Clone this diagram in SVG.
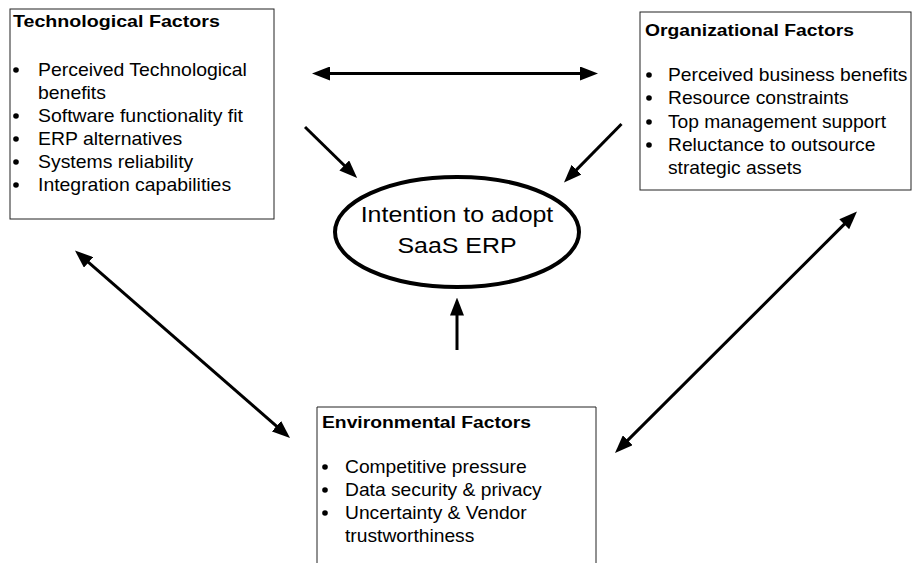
<svg xmlns="http://www.w3.org/2000/svg" width="913" height="563" viewBox="0 0 913 563">
  <style>
    .box { fill: #ffffff; stroke: #222222; stroke-width: 1; }
    .title { font-family: "Liberation Sans", Arial, sans-serif; font-weight: bold; font-size: 16.5px; fill: #000000; }
    .item { font-family: "Liberation Sans", Arial, sans-serif; font-size: 17.5px; fill: #000000; }
    .center { font-family: "Liberation Sans", Arial, sans-serif; font-size: 21.5px; fill: #000000; text-anchor: middle; }
    .dot { fill: #000000; }
    .conn { stroke: #000000; stroke-width: 3; fill: none; marker-end: url(#head); }
    .conn2 { stroke: #000000; stroke-width: 3; fill: none; marker-start: url(#head); marker-end: url(#head); }
  </style>
  <defs>
    <marker id="head" markerUnits="userSpaceOnUse" markerWidth="18" markerHeight="14" refX="8" refY="7" orient="auto-start-reverse">
      <path d="M0,0 L18,7 L0,14 z" fill="#000000"/>
    </marker>
  </defs>
  <rect width="913" height="563" fill="#ffffff"/>

  <g id="technological">
    <rect class="box" x="10" y="9" width="264" height="210"/>
    <text class="title" transform="translate(13,26.5) scale(1.19,1)">Technological Factors</text>
    <circle class="dot" cx="16" cy="70" r="2.8"/>
    <text class="item" transform="translate(38,76) scale(1.11,1)">Perceived Technological</text>
    <text class="item" transform="translate(38,99) scale(1.11,1)">benefits</text>
    <circle class="dot" cx="16" cy="116" r="2.8"/>
    <text class="item" transform="translate(38,122) scale(1.11,1)">Software functionality fit</text>
    <circle class="dot" cx="16" cy="139" r="2.8"/>
    <text class="item" transform="translate(38,145) scale(1.11,1)">ERP alternatives</text>
    <circle class="dot" cx="16" cy="162" r="2.8"/>
    <text class="item" transform="translate(38,168) scale(1.11,1)">Systems reliability</text>
    <circle class="dot" cx="16" cy="185" r="2.8"/>
    <text class="item" transform="translate(38,191) scale(1.11,1)">Integration capabilities</text>
  </g>

  <g id="organizational">
    <rect class="box" x="640" y="12" width="271" height="178"/>
    <text class="title" transform="translate(645,36) scale(1.17,1)">Organizational Factors</text>
    <circle class="dot" cx="649" cy="75" r="2.8"/>
    <text class="item" transform="translate(668,81) scale(1.1,1)">Perceived business benefits</text>
    <circle class="dot" cx="649" cy="98" r="2.8"/>
    <text class="item" transform="translate(668,104) scale(1.1,1)">Resource constraints</text>
    <circle class="dot" cx="649" cy="122" r="2.8"/>
    <text class="item" transform="translate(668,128) scale(1.1,1)">Top management support</text>
    <circle class="dot" cx="649" cy="145" r="2.8"/>
    <text class="item" transform="translate(668,151) scale(1.1,1)">Reluctance to outsource</text>
    <text class="item" transform="translate(668,174) scale(1.1,1)">strategic assets</text>
  </g>

  <g id="environmental">
    <path class="box" d="M317,564 V407 H596 V564"/>
    <text class="title" transform="translate(322,428) scale(1.17,1)">Environmental Factors</text>
    <circle class="dot" cx="325" cy="467" r="2.8"/>
    <text class="item" transform="translate(345,473) scale(1.1,1)">Competitive pressure</text>
    <circle class="dot" cx="325" cy="490" r="2.8"/>
    <text class="item" transform="translate(345,496) scale(1.1,1)">Data security &amp; privacy</text>
    <circle class="dot" cx="325" cy="513" r="2.8"/>
    <text class="item" transform="translate(345,519) scale(1.1,1)">Uncertainty &amp; Vendor</text>
    <text class="item" transform="translate(345,542) scale(1.1,1)">trustworthiness</text>
  </g>

  <g id="intention">
    <ellipse cx="457" cy="232" rx="122" ry="55" fill="#ffffff" stroke="#000000" stroke-width="4"/>
    <text class="center" transform="translate(457,221.5) scale(1.16,1)">Intention to adopt</text>
    <text class="center" transform="translate(457,252.5) scale(1.16,1)">SaaS ERP</text>
  </g>

  <g id="connectors">
    <line class="conn2" x1="322" y1="73.5" x2="588" y2="73.5"/>
    <line class="conn" x1="305" y1="127" x2="350" y2="171"/>
    <line class="conn" x1="621.5" y1="124" x2="571" y2="175.4"/>
    <line class="conn" x1="457" y1="350" x2="457" y2="307.5"/>
    <line class="conn2" x1="82.5" y1="257.1" x2="282.5" y2="431.4"/>
    <line class="conn2" x1="849.9" y1="218.6" x2="622.1" y2="445.9"/>
  </g>
</svg>
